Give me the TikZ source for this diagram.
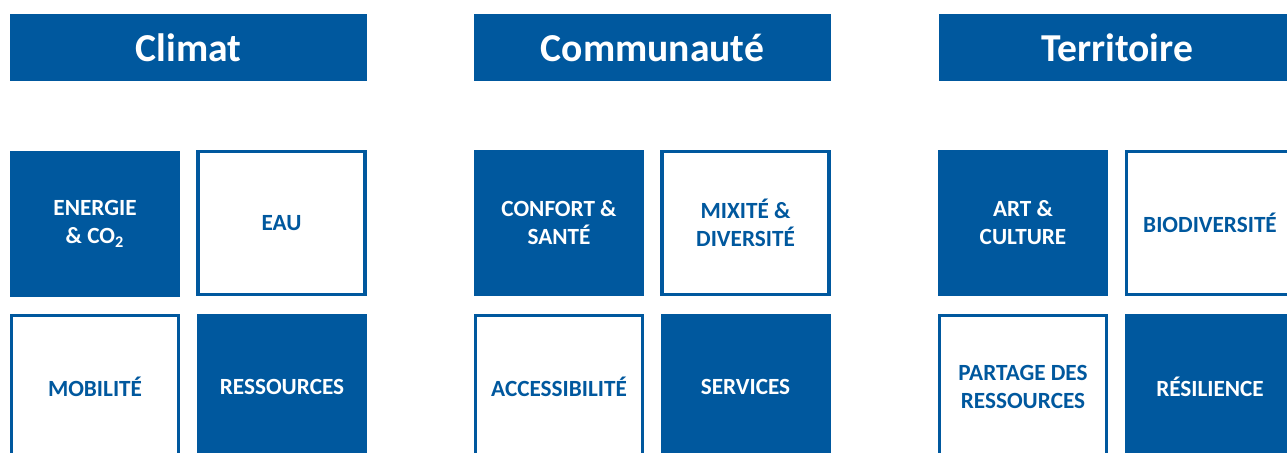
\documentclass[tikz,border=0pt]{standalone}
\usepackage{fontspec}
\setmainfont{Carlito}
\usepackage{xcolor}
\usetikzlibrary{positioning}
\definecolor{themeblue}{RGB}{0,88,158}

\tikzset{
    header/.style={fill=themeblue, text=white, font=\bfseries\fontsize{19.8}{23}\selectfont,
        minimum width=178.5pt, minimum height=33.5pt, inner sep=0pt},
    darktile/.style={fill=themeblue, text=white, align=center,
        font=\bfseries\fontsize{11.6}{14}\selectfont,
        minimum width=85pt, minimum height=73pt, inner sep=0pt},
    lighttile/.style={draw=themeblue, line width=1.6pt, fill=white, text=themeblue, align=center,
        font=\bfseries\fontsize{11.6}{14}\selectfont,
        minimum width=83.5pt, minimum height=71.5pt, inner sep=0pt}
}

\begin{document}
\begin{tikzpicture}[x=0.5pt, y=-0.5pt]
    \useasboundingbox (0,0) rectangle (1287,453);
    \clip (0,0) rectangle (1287,453);

    % Column headers
    \node[header] (climat) at (188.5,47.5) {Climat};
    \node[header] (communaute) at (652.5,47.5) {Communauté};
    \node[header] (territoire) at (1117,47.5) {Territoire};

    % Climat
    \node[darktile] (energie) at (95,224) {ENERGIE\\\& CO\textsubscript{2}};
    \node[lighttile] (eau) at (281.5,223) {EAU};
    \node[lighttile] (mobilite) at (95,387) {MOBILITÉ};
    \node[darktile] (ressources) at (282,387) {RESSOURCES};

    % Communauté
    \node[darktile] (confort) at (559,223) {CONFORT \&\\SANTÉ};
    \node[lighttile] (mixite) at (745.5,223) {MIXITÉ \&\\DIVERSITÉ};
    \node[lighttile] (accessibilite) at (559,387) {ACCESSIBILITÉ};
    \node[darktile] (services) at (745.5,387) {SERVICES};

    % Territoire
    \node[darktile] (art) at (1023,223) {ART \&\\CULTURE};
    \node[lighttile] (biodiversite) at (1210,223) {BIODIVERSITÉ};
    \node[lighttile] (partage) at (1023,387) {PARTAGE DES\\RESSOURCES};
    \node[darktile] (resilience) at (1210,387) {RÉSILIENCE};
\end{tikzpicture}
\end{document}
